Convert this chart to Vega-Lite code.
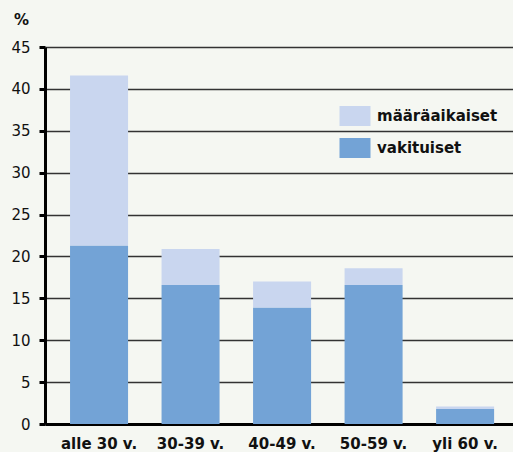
{
  "$schema": "https://vega.github.io/schema/vega-lite/v6.json",
  "autosize": "none",
  "width": 468,
  "height": 377,
  "padding": {"left": 45, "top": 47, "right": 0, "bottom": 28},
  "background": "#f5f7f2",
  "config": {
    "view": {"stroke": null},
    "font": "DejaVu Sans"
  },
  "data": {
    "values": [
      {"ika": "alle 30 v.", "tyyppi": "vakituiset", "osuus": 21.3},
      {"ika": "alle 30 v.", "tyyppi": "määräaikaiset", "osuus": 20.3},
      {"ika": "30-39 v.", "tyyppi": "vakituiset", "osuus": 16.6},
      {"ika": "30-39 v.", "tyyppi": "määräaikaiset", "osuus": 4.3},
      {"ika": "40-49 v.", "tyyppi": "vakituiset", "osuus": 13.9},
      {"ika": "40-49 v.", "tyyppi": "määräaikaiset", "osuus": 3.1},
      {"ika": "50-59 v.", "tyyppi": "vakituiset", "osuus": 16.6},
      {"ika": "50-59 v.", "tyyppi": "määräaikaiset", "osuus": 2.0},
      {"ika": "yli 60 v.", "tyyppi": "vakituiset", "osuus": 1.8},
      {"ika": "yli 60 v.", "tyyppi": "määräaikaiset", "osuus": 0.3}
    ]
  },
  "mark": {"type": "bar"},
  "encoding": {
    "x": {
      "field": "ika",
      "type": "nominal",
      "sort": null,
      "scale": {"paddingInner": 0.366, "paddingOuter": 0.24, "align": 0.57},
      "axis": {
        "title": null,
        "labelAngle": 0,
        "labelFont": "DejaVu Sans",
        "labelFontWeight": "bold",
        "labelFontSize": 15,
        "labelColor": "#111111",
        "labelPadding": 12,
        "ticks": false,
        "domainColor": "#000000",
        "domainWidth": 3
      }
    },
    "y": {
      "field": "osuus",
      "type": "quantitative",
      "stack": "zero",
      "scale": {"domain": [0, 45], "nice": false},
      "axis": {
        "values": [0, 5, 10, 15, 20, 25, 30, 35, 40, 45],
        "title": "%",
        "titleAngle": 0,
        "titleX": -24,
        "titleY": -28,
        "titleAlign": "center",
        "titleBaseline": "middle",
        "titleFont": "DejaVu Sans",
        "titleFontSize": 15,
        "titleFontWeight": "bold",
        "titleColor": "#111111",
        "labelFont": "DejaVu Sans",
        "labelFontSize": 15,
        "labelColor": "#111111",
        "labelPadding": 9,
        "tickSize": 6,
        "tickWidth": 3,
        "tickColor": "#000000",
        "domainColor": "#000000",
        "domainWidth": 3,
        "grid": true,
        "gridColor": "#333333",
        "gridWidth": 1.6,
        "gridOpacity": 1
      }
    },
    "color": {
      "field": "tyyppi",
      "type": "nominal",
      "scale": {
        "domain": ["määräaikaiset", "vakituiset"],
        "range": ["#c9d6ef", "#73a3d6"]
      },
      "legend": {
        "title": null,
        "orient": "none",
        "legendX": 300,
        "legendY": 59,
        "symbolType": "M-1.55,-1H1.55V1H-1.55Z",
        "symbolSize": 400,
        "symbolStrokeWidth": 0,
        "symbolOpacity": 1,
        "labelFont": "DejaVu Sans",
        "labelFontWeight": "bold",
        "labelFontSize": 15,
        "labelColor": "#111111",
        "labelOffset": 12,
        "rowPadding": 12
      }
    },
    "order": {"field": "tyyppi", "sort": "descending"}
  }
}
